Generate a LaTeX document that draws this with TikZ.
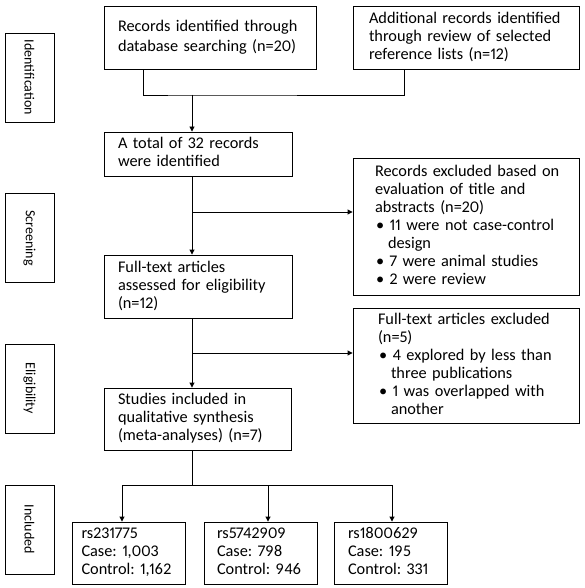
\documentclass[tikz,border=0pt]{standalone}
\usepackage{fontspec}
\setmainfont{Carlito}[Numbers=Proportional]
\frenchspacing
\hfuzz=50pt
\newcommand\rows[1]{\begin{tabular}{@{}l@{}}#1\end{tabular}}
\usetikzlibrary{arrows.meta,
                calc,
                positioning}

\begin{document}
\begin{tikzpicture}[
    x=1pt, y=-1pt,
    font=\fontsize{16.3}{18}\selectfont,
    line width=0.9pt,
        base/.style = {draw, rectangle, inner ysep=0pt, align=left},
        stage/.style = {base, rotate=-90, align=center,
                        font=\fontsize{14}{16}\selectfont,
                        minimum width=89pt, minimum height=49pt, inner xsep=0pt},
        mainbox/.style = {base, inner xsep=14pt, text width=160pt},
        sidebox/.style = {base, inner xsep=22pt, text width=182pt},
        snpbox/.style = {base, inner xsep=9pt, text width=95pt, minimum height=62pt},
        arr/.style = {-{Triangle[length=5pt,width=5pt]}}
        ]
    \useasboundingbox (0,0) rectangle (584,588);

    % Stage labels on the left
    \node[stage] (ident)  at (29.5,77.5)  {Identification};
    \node[stage] (screen) at (29.5,238)   {Screening};
    \node[stage] (elig)   at (29.5,388.5) {Eligibility};
    \node[stage] (incl)   at (29.5,529.5) {Included};

    % Row 1
    \node[mainbox, text width=184pt, minimum height=63pt] (search) at (210,37.5)
        {\rows{Records identified through\\[2pt]database searching (n=20)}};
    \node[base, inner xsep=16pt, text width=194pt, minimum height=63pt] (extra) at (466,37.5)
        {\rows{Additional records identified\\through review of selected\\reference lists (n=12)}};
    % Row 2
    \node[mainbox, text width=160pt, minimum height=44pt] (total) at (198,154)
        {\rows{A total of 32 records\\were identified}};
    \node[sidebox, minimum height=137pt] (excl-ta) at (466,226.5)
        {\rows{Records excluded based on\\evaluation of title and\\abstracts (n=20)\\
         \hspace*{1pt}\textbullet\ 11 were not case-control\\\hspace*{13pt}design\\
         \hspace*{1pt}\textbullet\ 7 were animal studies\\
         \hspace*{1pt}\textbullet\ 2 were review}};
    % Row 3
    \node[mainbox, minimum height=63pt] (fulltext) at (198,286.5)
        {\rows{Full-text articles\\assessed for eligibility\\(n=12)}};
    \node[sidebox, inner xsep=25pt, text width=176pt, minimum height=115pt] (excl-ft) at (466,365.5)
        {\rows{Full-text articles excluded\\(n=5)\\
         \hspace*{1pt}\textbullet\ 4 explored by less than\\\hspace*{13pt}three publications\\
         \hspace*{1pt}\textbullet\ 1 was overlapped with\\\hspace*{13pt}another}};
    % Row 4
    \node[mainbox, text width=159pt, minimum height=62pt] (studies) at (197.5,419)
        {\rows{Studies included in\\qualitative synthesis\\(meta-analyses) (n=7)}};
    % Row 5
    \node[snpbox] (snp-a) at (129,553)
        {\rows{rs231775\\Case: 1,003\\Control: 1,162}};
    \node[snpbox, inner xsep=13pt, text width=87pt] (snp-b) at (260.5,553)
        {\rows{rs5742909\\Case: 798\\Control: 946}};
    \node[snpbox, inner xsep=14pt, text width=85pt] (snp-c) at (390.5,553)
        {\rows{rs1800629\\Case: 195\\Control: 331}};

    %% junctions on the main line
    \coordinate (merge) at (192,95);
    \coordinate (cut-a) at (192,212);
    \coordinate (cut-b) at (192,353);
    \coordinate (split) at (192,485);

    \draw ([xshift=-67pt]search.south) |- (merge) -| ([xshift=-62pt]extra.south);
    \draw[arr] (merge) -- (merge |- total.north);
    \draw[arr] (total.south -| merge) -- (fulltext.north -| merge);
    \draw[arr] (cut-a) -- (cut-a -| excl-ta.west);
    \draw[arr] (fulltext.south -| merge) -- (studies.north -| merge);
    \draw[arr] (cut-b) -- (cut-b -| excl-ft.west);
    \draw (studies.south -| split) -- (split);
    %% Branch
    \foreach \snp/\dx in {snp-a/-7, snp-b/7.5, snp-c/1.5}
        \draw[arr] (split) -| ([xshift=\dx pt]\snp.north);
\end{tikzpicture}
\end{document}
